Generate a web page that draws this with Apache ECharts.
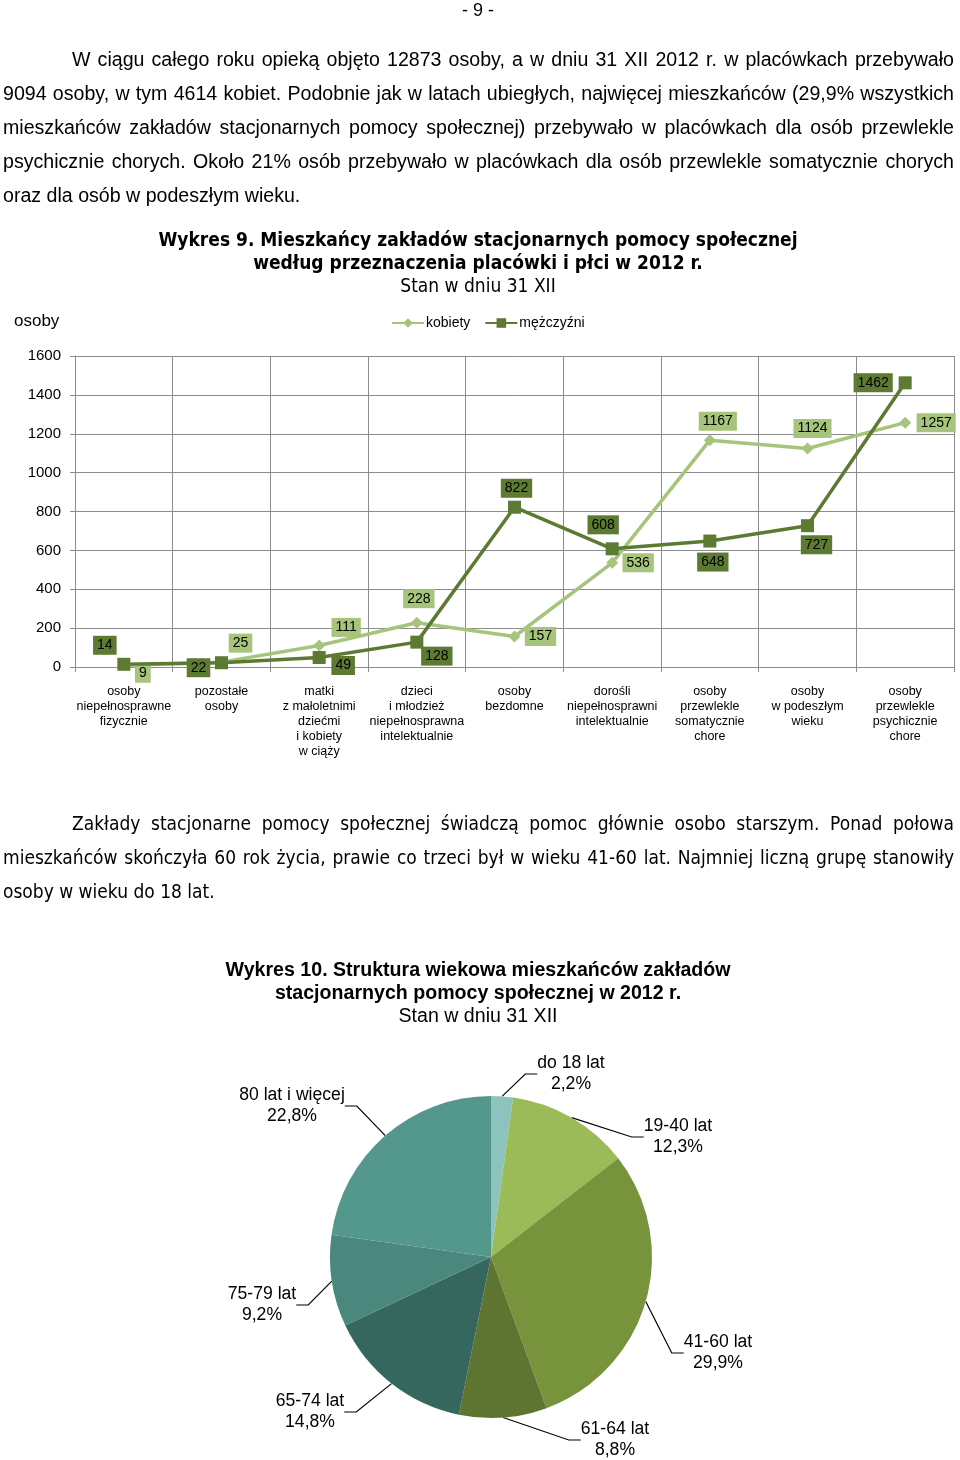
<!DOCTYPE html>
<html>
<head>
<meta charset="utf-8">
<script src="https://cdn.jsdelivr.net/npm/echarts@6/dist/echarts.min.js"></script>
<style>
  html, body { margin: 0; padding: 0; background: #fff; }
  #page { position: relative; width: 960px; height: 1460px; overflow: hidden; }
  #chart { position: absolute; left: 0; top: 0; width: 960px; height: 1460px; }
  .ln { position: absolute; height: 34px; line-height: 34px; font-size: 19.6px; color: #000;
        font-family: 'Liberation Sans', Arial, sans-serif; text-align: justify; text-align-last: justify; z-index: 2; }
  .ln.last { text-align: left; text-align-last: left; }
  .nar { font-family: 'Liberation Sans Narrow', 'Arial Narrow', 'DejaVu Sans Condensed', sans-serif; font-size: 19px; }
  #pnum { position: absolute; left: 0; width: 956px; top: 0; height: 20px; line-height: 20px; text-align: center;
          font-family: 'Liberation Sans', Arial, sans-serif; font-size: 18px; z-index: 2; }
</style>
</head>
<body>
<div id="page">
  <div id="chart"></div>
  <div id="pnum">- 9 -</div>
  <div class="ln" style="left:72px;width:882px;top:42px">W ciągu całego roku opieką objęto 12873 osoby, a w dniu 31 XII 2012 r. w placówkach przebywało</div>
  <div class="ln" style="left:3px;width:951px;top:76px">9094 osoby, w tym 4614 kobiet. Podobnie jak w latach ubiegłych, najwięcej mieszkańców (29,9% wszystkich</div>
  <div class="ln" style="left:3px;width:951px;top:110px">mieszkańców zakładów stacjonarnych pomocy społecznej) przebywało w placówkach dla osób przewlekle</div>
  <div class="ln" style="left:3px;width:951px;top:144px">psychicznie chorych. Około 21% osób przebywało w placówkach dla osób przewlekle somatycznie chorych</div>
  <div class="ln last" style="left:3px;width:951px;top:178px">oraz dla osób w podeszłym wieku.</div>

  <div class="ln nar" style="left:72px;width:882px;top:806px">Zakłady stacjonarne pomocy społecznej świadczą pomoc głównie osobo starszym. Ponad połowa</div>
  <div class="ln nar" style="left:3px;width:951px;top:840px">mieszkańców skończyła 60 rok życia, prawie co trzeci był w wieku 41-60 lat. Najmniej liczną grupę stanowiły</div>
  <div class="ln nar last" style="left:3px;width:951px;top:874px">osoby w wieku do 18 lat.</div>
</div>
<script>
// ---- data: chart 9 ----
var categories = [
  'osoby\nniepełnosprawne\nfizycznie',
  'pozostałe\nosoby',
  'matki\nz małoletnimi\ndziećmi\ni kobiety\nw ciąży',
  'dzieci\ni młodzież\nniepełnosprawna\nintelektualnie',
  'osoby\nbezdomne',
  'dorośli\nniepełnosprawni\nintelektualnie',
  'osoby\nprzewlekle\nsomatycznie\nchore',
  'osoby\nw podeszłym\nwieku',
  'osoby\nprzewlekle\npsychicznie\nchore'
];
var kobiety = [9, 25, 111, 228, 157, 536, 1167, 1124, 1257];
var mezczyzni = [14, 22, 49, 128, 822, 608, 648, 727, 1462];
var yTicks = [0, 200, 400, 600, 800, 1000, 1200, 1400, 1600];

// ---- data: chart 10 ----
var ageGroups = ['do 18 lat', '19-40 lat', '41-60 lat', '61-64 lat', '65-74 lat', '75-79 lat', '80 lat i więcej'];
var agePercent = [2.2, 12.3, 29.9, 8.8, 14.8, 9.2, 22.8];

// ---- styling (label placement, colours) ----
var kLabelOffset = [[19, 8], [19, -19], [27, -18], [2, -24], [26, 0], [26, 0], [8, -19], [5, -20], [31, 0]];
var mLabelOffset = [[-19, -19], [-23, 5], [24, 8], [20, 14], [2, -19], [-9, -24], [3, 21], [9, 19], [-32, 0]];
var pieLabelPos = [[571, 1074], [678, 1137], [718, 1353], [615, 1440], [310, 1412], [262, 1305], [292, 1106]];
var pieColors = ['#8CC4BD', '#9BBB59', '#77933C', '#5E7531', '#35675F', '#4A887E', '#53978D'];
var cLight = '#A6C47C', cDark = '#5D7A33';
var FONT = "'Liberation Sans', Arial, sans-serif";
var NARROW = "'Liberation Sans Narrow', 'Arial Narrow', 'DejaVu Sans Condensed', sans-serif";

function buildSeriesData(vals, offsets) {
  return vals.map(function (v, i) {
    return {
      value: v,
      label: { show: true, position: 'inside', offset: offsets[i] }
    };
  });
}

function centeredText(x, y, text, font) {
  return { type: 'text', x: x, y: y, style: { text: text, font: font, align: 'center', verticalAlign: 'middle', fill: '#000' } };
}

var chart = echarts.init(document.getElementById('chart'), null, { renderer: 'canvas' });
var option = {
  animation: false,
  textStyle: { fontFamily: FONT },
  graphic: [
    centeredText(478, 241, 'Wykres 9. Mieszkańcy zakładów stacjonarnych pomocy społecznej', 'bold 19px ' + NARROW),
    centeredText(478, 264, 'według przeznaczenia placówki i płci w 2012 r.', 'bold 19px ' + NARROW),
    centeredText(478, 287, 'Stan w dniu 31 XII', '19px ' + NARROW),
    { type: 'text', left: 14, top: 313, style: { text: 'osoby', font: '17px ' + FONT, fill: '#000' } },
    centeredText(478, 971, 'Wykres 10. Struktura wiekowa mieszkańców zakładów', 'bold 19.6px ' + FONT),
    centeredText(478, 994, 'stacjonarnych pomocy społecznej w 2012 r.', 'bold 19.6px ' + FONT),
    centeredText(478, 1017, 'Stan w dniu 31 XII', '19.6px ' + FONT)
  ],
  legend: {
    left: 386, top: 311,
    itemWidth: 32, itemHeight: 12, itemGap: 14,
    textStyle: { fontSize: 14, color: '#000', fontFamily: FONT, padding: [0, 0, 0, -3] },
    data: ['kobiety', 'mężczyźni']
  },
  grid: { left: 75, top: 356, width: 879, height: 311, containLabel: false },
  xAxis: {
    type: 'category', data: categories, boundaryGap: true,
    axisLine: { show: true, lineStyle: { color: '#8C8C8C', width: 1 } },
    axisTick: { show: true, length: 5, lineStyle: { color: '#8C8C8C' } },
    splitLine: { show: true, lineStyle: { color: '#8C8C8C', width: 1 } },
    axisLabel: { interval: 0, margin: 17, fontSize: 12.5, lineHeight: 15, color: '#000', fontFamily: FONT, align: 'center' }
  },
  yAxis: {
    type: 'value', min: 0, max: 1600, interval: 200,
    axisLine: { show: true, lineStyle: { color: '#8C8C8C', width: 1 } },
    axisTick: { show: true, length: 5, lineStyle: { color: '#8C8C8C' } },
    splitLine: { show: true, lineStyle: { color: '#8C8C8C', width: 1 } },
    axisLabel: { margin: 14, fontSize: 15, color: '#000', fontFamily: FONT,
      formatter: function (v) { return yTicks.indexOf(v) >= 0 ? String(v) : ''; } }
  },
  series: [
    {
      name: 'kobiety', type: 'line', data: buildSeriesData(kobiety, kLabelOffset),
      symbol: 'diamond', symbolSize: 12,
      lineStyle: { color: cLight, width: 3.5 }, itemStyle: { color: cLight },
      label: { fontSize: 14, color: '#000', backgroundColor: cLight, padding: [3, 4, 2, 4], fontFamily: FONT },
      z: 2
    },
    {
      name: 'mężczyźni', type: 'line', data: buildSeriesData(mezczyzni, mLabelOffset),
      symbol: 'rect', symbolSize: 13,
      lineStyle: { color: cDark, width: 3.5 }, itemStyle: { color: cDark },
      label: { fontSize: 14, color: '#000', backgroundColor: cDark, padding: [3, 4, 2, 4], fontFamily: FONT },
      z: 3
    },
    {
      name: 'wiek', type: 'pie', center: [491, 1257], radius: 161,
      startAngle: 90, clockwise: true,
      data: ageGroups.map(function (n, i) { return { name: n, value: agePercent[i], itemStyle: { color: pieColors[i] } }; }),
      label: {
        show: true, position: 'outside', color: '#000', fontSize: 17.6, lineHeight: 21, fontFamily: FONT, align: 'center',
        formatter: function (p) { return p.name + '\n' + p.value.toFixed(1).replace('.', ',') + '%'; }
      },
      labelLine: { show: true, length: 12, length2: 12, lineStyle: { color: '#000', width: 1.2 } },
      labelLayout: function (params) {
        var p = pieLabelPos[params.dataIndex];
        return { x: p[0], y: p[1], align: 'center', verticalAlign: 'middle' };
      },
      emphasis: { disabled: true }
    }
  ]
};
chart.setOption(option);
</script>
</body>
</html>
